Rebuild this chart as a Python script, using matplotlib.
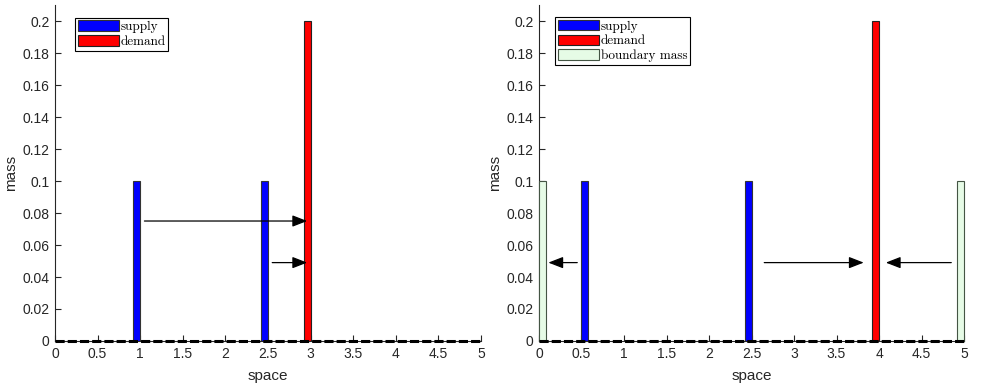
import numpy as np
import matplotlib
matplotlib.use("Agg")
import matplotlib.pyplot as plt

# bar width in space units (bars drawn as cells of this width)
width = 0.08

# left panel
supply_x1 = [0.96, 2.46]
supply_m1 = [0.1, 0.1]
demand_x1 = [2.96]
demand_m1 = [0.2]
arrows1 = [(1.05, 2.96, 0.075), (2.55, 2.96, 0.049)]

# right panel
supply_x2 = [0.54, 2.46]
supply_m2 = [0.1, 0.1]
demand_x2 = [3.96]
demand_m2 = [0.2]
boundary_x2 = [0.04, 4.96]
boundary_m2 = [0.1, 0.1]
arrows2 = [(0.45, 0.11, 0.049), (2.65, 3.82, 0.049), (4.85, 4.08, 0.049)]

xticks = np.arange(0, 5.01, 0.5)
yticks = np.arange(0, 0.201, 0.02)
xtick_labels = ['0', '0.5', '1', '1.5', '2', '2.5', '3', '3.5', '4', '4.5', '5']
ytick_labels = ['0', '0.02', '0.04', '0.06', '0.08', '0.1', '0.12', '0.14', '0.16', '0.18', '0.2']

plt.rcParams['font.family'] = ['Liberation Sans', 'DejaVu Sans']
axcol = '#262626'


def setup(ax):
    ax.set_xlim(0, 5)
    ax.set_ylim(0, 0.21)
    ax.set_xticks(xticks)
    ax.set_xticklabels(xtick_labels)
    ax.set_yticks(yticks)
    ax.set_yticklabels(ytick_labels)
    ax.tick_params(direction='in', length=4, labelsize=10, colors=axcol, pad=4)
    for s in ['top', 'right']:
        ax.spines[s].set_visible(False)
    for s in ['left', 'bottom']:
        ax.spines[s].set_color(axcol)
    ax.set_xlabel('space', fontsize=11, color=axcol, labelpad=6)
    ax.set_ylabel('mass', fontsize=11, color=axcol, labelpad=3)
    # row of empty cells along the bottom
    ax.plot([0, 5], [0, 0], color='black', lw=2.2, ls=(0, (3, 1)), zorder=4,
            clip_on=False)


def arrows(ax, arr):
    for x0, x1, y in arr:
        ax.annotate('', xy=(x1, y), xytext=(x0, y),
                    arrowprops=dict(arrowstyle='-|>,head_length=0.9,head_width=0.35',
                                    color='black', lw=0.9, shrinkA=0, shrinkB=0))


fig = plt.figure(figsize=(9.85, 3.87), dpi=100)
ax1 = fig.add_axes([0.0558, 0.1189, 0.4325, 0.868])
ax2 = fig.add_axes([0.5472, 0.1189, 0.4315, 0.868])

ax1.bar(supply_x1, supply_m1, width, color='#0000ff', edgecolor='#333333', lw=0.8, label='supply', zorder=3)
ax1.bar(demand_x1, demand_m1, width, color='#ff0000', edgecolor='#222222', lw=0.8, label='demand', zorder=3)
setup(ax1)
arrows(ax1, arrows1)

ax2.bar(supply_x2, supply_m2, width, color='#0000ff', edgecolor='#333333', lw=0.8, label='supply', zorder=3)
ax2.bar(demand_x2, demand_m2, width, color='#ff0000', edgecolor='#222222', lw=0.8, label='demand', zorder=3)
ax2.bar(boundary_x2, boundary_m2, width, color='#e6fbe6', edgecolor='#445544', lw=0.8,
        label='boundary mass', zorder=3, clip_on=False)
setup(ax2)
arrows(ax2, arrows2)

for ax, anchor in ((ax1, (0.047, 0.962)), (ax2, (0.038, 0.964))):
    leg = ax.legend(loc='upper left', bbox_to_anchor=anchor, prop={'family': 'cmr10', 'size': 9.5},
                    fancybox=False, edgecolor='black', framealpha=1, borderpad=0.2,
                    handlelength=3.1, handleheight=0.85, handletextpad=0.15, labelspacing=0.15,
                    borderaxespad=0)
    leg.get_frame().set_linewidth(0.8)

fig.savefig('out.png', dpi=100)
